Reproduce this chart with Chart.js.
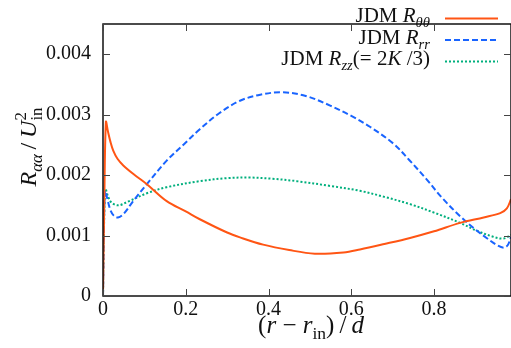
<!DOCTYPE html>
<html lang="en">
<head>
  <meta charset="UTF-8" />
  <title>JDM Reynolds stresses</title>
  <script src="https://cdn.jsdelivr.net/npm/chart.js"></script>
  <style>
    body { margin: 0; background: #fff; }
    .chart-container { width: 511px; height: 348px; position: relative; }
  </style>
</head>
<body>
  <div class="chart-container">
    <canvas id="stressChart"></canvas>
  </div>

  <script>
    // x positions (r - r_in)/d and values R_aa/U_in^2 (in units of 1e-3)
    const thetaX = [0, 0.003, 0.007, 0.012, 0.018, 0.025, 0.035, 0.049, 0.075, 0.106, 0.154, 0.2, 0.234, 0.3, 0.331, 0.387, 0.45, 0.512, 0.581, 0.621, 0.68, 0.742, 0.8, 0.863, 0.92, 0.96, 0.976, 0.986];
    const thetaY = [0, 1.5, 2.88, 2.72, 2.55, 2.40, 2.27, 2.16, 2.01, 1.85, 1.57, 1.40, 1.27, 1.05, 0.97, 0.85, 0.76, 0.70, 0.72, 0.77, 0.86, 0.96, 1.07, 1.21, 1.30, 1.37, 1.45, 1.60];

    const rrX = [0, 0.002, 0.005, 0.010, 0.018, 0.026, 0.036, 0.05, 0.073, 0.106, 0.154, 0.2, 0.234, 0.28, 0.331, 0.38, 0.432, 0.49, 0.549, 0.6, 0.645, 0.702, 0.74, 0.782, 0.82, 0.863, 0.9, 0.927, 0.95, 0.968, 0.978, 0.986];
    const rrY = [0, 1.0, 1.74, 1.62, 1.42, 1.33, 1.30, 1.36, 1.57, 1.85, 2.24, 2.54, 2.76, 3.02, 3.23, 3.33, 3.37, 3.31, 3.15, 2.98, 2.80, 2.52, 2.25, 1.93, 1.62, 1.32, 1.10, 0.96, 0.85, 0.80, 0.84, 0.98];

    const zzX = [0, 0.002, 0.006, 0.012, 0.02, 0.037, 0.06, 0.106, 0.154, 0.234, 0.3, 0.355, 0.41, 0.468, 0.55, 0.621, 0.68, 0.742, 0.8, 0.863, 0.9, 0.943, 0.968, 0.986];
    const zzY = [0, 1.0, 1.77, 1.65, 1.55, 1.50, 1.56, 1.70, 1.80, 1.90, 1.95, 1.96, 1.94, 1.90, 1.82, 1.74, 1.64, 1.52, 1.38, 1.21, 1.09, 0.98, 0.95, 1.01];

    const xTicks = [0, 0.2, 0.4, 0.6, 0.8];
    const yTicks = [0, 0.001, 0.002, 0.003, 0.004];

    const toPoints = (xs, ys) => xs.map((x, i) => ({ x: x, y: ys[i] * 1e-3 }));

    const SERIF = '"Liberation Serif", "Times New Roman", serif';
    const ORANGE = 'rgb(255, 85, 20)';
    const BLUE = 'rgb(25, 100, 255)';
    const GREEN = 'rgb(0, 175, 125)';

    // text pieces with italic / subscript / superscript
    function richWidth(ctx, segs, size) {
      let w = 0, last = 0;
      segs.forEach(s => {
        const sz = (s.sub || s.sup) ? size * 0.7 : size;
        ctx.font = (s.it ? 'italic ' : '') + sz + 'px ' + SERIF;
        const sw = ctx.measureText(s.t).width;
        if (s.stack) { w = Math.max(w, last + sw); } else { last = w; w += sw; }
      });
      return w;
    }
    function drawRich(ctx, segs, x, y, size) {
      let cx = x, last = x;
      segs.forEach(s => {
        const sz = (s.sub || s.sup) ? size * 0.7 : size;
        ctx.font = (s.it ? 'italic ' : '') + sz + 'px ' + SERIF;
        let dy = 0;
        if (s.sub) dy = size * 0.25;
        if (s.sup) dy = -size * 0.42;
        const start = s.stack ? last : cx;
        ctx.fillText(s.t, start, y + dy);
        const sw = ctx.measureText(s.t).width;
        if (s.stack) { cx = Math.max(cx, start + sw); } else { last = cx; cx += sw; }
      });
    }

    const legendRows = [
      { segs: [{ t: 'JDM ' }, { t: 'R', it: true }, { t: 'θθ', it: true, sub: true }], color: ORANGE, dash: [] },
      { segs: [{ t: 'JDM ' }, { t: 'R', it: true }, { t: 'rr', it: true, sub: true }], color: BLUE, dash: [6, 3] },
      { segs: [{ t: 'JDM ' }, { t: 'R', it: true }, { t: 'zz', it: true, sub: true }, { t: '(= 2' }, { t: 'K', it: true }, { t: ' /3)' }], color: GREEN, dash: [2, 2] }
    ];

    const framePlugin = {
      id: 'frame',
      afterDraw(chart) {
        const ctx = chart.ctx;
        const a = chart.chartArea;
        const xs = chart.scales.x, ys = chart.scales.y;
        ctx.save();
        ctx.strokeStyle = '#111';
        ctx.lineWidth = 1.5;
        ctx.setLineDash([]);
        ctx.strokeRect(a.left, a.top, a.right - a.left, a.bottom - a.top);
        ctx.lineWidth = 1;
        ctx.strokeStyle = '#444';
        ctx.beginPath();
        xTicks.forEach(v => {
          const px = Math.round(xs.getPixelForValue(v)) + 0.5;
          ctx.moveTo(px, a.bottom); ctx.lineTo(px, a.bottom - 7);
          ctx.moveTo(px, a.top); ctx.lineTo(px, a.top + 7);
        });
        yTicks.forEach(v => {
          const py = Math.round(ys.getPixelForValue(v)) + 0.5;
          ctx.moveTo(a.left, py); ctx.lineTo(a.left + 7, py);
          ctx.moveTo(a.right, py); ctx.lineTo(a.right - 7, py);
        });
        ctx.stroke();

        // legend, text right-aligned before the line sample
        ctx.fillStyle = '#111';
        ctx.textBaseline = 'alphabetic';
        ctx.textAlign = 'left';
        legendRows.forEach((row, i) => {
          const base = 22 + i * 21.5;
          const w = richWidth(ctx, row.segs, 21);
          drawRich(ctx, row.segs, 430 - w, base, 21);
          ctx.strokeStyle = row.color;
          ctx.lineWidth = 2;
          ctx.setLineDash(row.dash);
          ctx.beginPath();
          ctx.moveTo(445, base - 3.5);
          ctx.lineTo(498, base - 3.5);
          ctx.stroke();
        });
        ctx.setLineDash([]);

        // x axis title: (r - r_in)/d
        const xt = [{ t: '(' }, { t: 'r', it: true }, { t: ' − ' }, { t: 'r', it: true }, { t: 'in', sub: true }, { t: ')\u2009/\u2009' }, { t: 'd', it: true }];
        const xw = richWidth(ctx, xt, 25);
        drawRich(ctx, xt, 311 - xw / 2, 333, 25);

        // y axis title: R_aa / U_in^2, rotated
        const yt = [{ t: 'R', it: true }, { t: 'αα', it: true, sub: true }, { t: '\u2009/\u2009' }, { t: 'U', it: true }, { t: 'in', sub: true }, { t: '2', sup: true, stack: true }];
        const yw = richWidth(ctx, yt, 24);
        ctx.translate(36, 147);
        ctx.rotate(-Math.PI / 2);
        drawRich(ctx, yt, -yw / 2, 0, 24);
        ctx.restore();
      }
    };

    new Chart(document.getElementById('stressChart'), {
      type: 'line',
      data: {
        datasets: [
          {
            label: 'JDM R_θθ',
            data: toPoints(thetaX, thetaY),
            borderColor: ORANGE,
            borderWidth: 2,
            pointRadius: 0,
            tension: 0.35
          },
          {
            label: 'JDM R_rr',
            data: toPoints(rrX, rrY),
            borderColor: BLUE,
            borderWidth: 2,
            borderDash: [6, 3],
            pointRadius: 0,
            tension: 0.35
          },
          {
            label: 'JDM R_zz(= 2K/3)',
            data: toPoints(zzX, zzY),
            borderColor: GREEN,
            borderWidth: 2,
            borderDash: [2, 2],
            pointRadius: 0,
            tension: 0.35
          }
        ]
      },
      options: {
        responsive: true,
        maintainAspectRatio: false,
        animation: false,
        devicePixelRatio: 1,
        layout: { padding: { top: 2, right: 0, left: 0, bottom: 0 } },
        plugins: {
          legend: { display: false },
          tooltip: { enabled: false }
        },
        scales: {
          x: {
            type: 'linear',
            min: 0,
            max: 0.986,
            grid: { display: false, drawTicks: false },
            border: { display: false },
            afterBuildTicks: s => { s.ticks = xTicks.map(v => ({ value: v })); },
            afterFit: s => { s.height = 52; },
            ticks: {
              padding: 2,
              color: '#111',
              maxRotation: 0,
              font: { family: SERIF, size: 20 },
              callback: v => v === 0 ? '0' : v.toFixed(1)
            }
          },
          y: {
            min: 0,
            max: 0.0045,
            grid: { display: false, drawTicks: false },
            border: { display: false },
            afterBuildTicks: s => { s.ticks = yTicks.map(v => ({ value: v })); },
            afterFit: s => { s.width = 103; },
            ticks: {
              padding: 12,
              color: '#111',
              font: { family: SERIF, size: 20 },
              callback: v => v === 0 ? '0' : v.toFixed(3)
            }
          }
        }
      },
      plugins: [framePlugin]
    });
  </script>
</body>
</html>
